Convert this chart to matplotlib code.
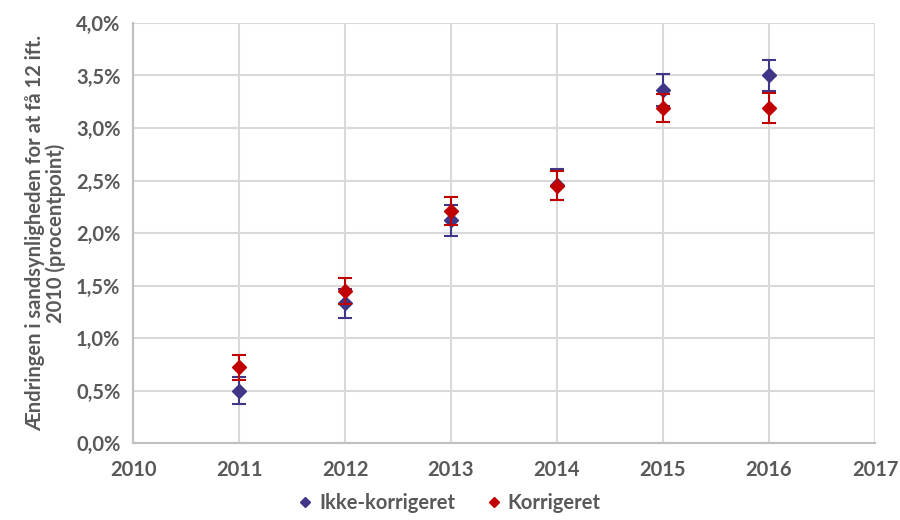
import matplotlib
matplotlib.use("Agg")
import matplotlib.pyplot as plt
from matplotlib.lines import Line2D
from matplotlib.ticker import FuncFormatter, MultipleLocator

years = [2011, 2012, 2013, 2014, 2015, 2016]

ukorr = [0.50, 1.33, 2.12, 2.46, 3.36, 3.50]
ukorr_err = [0.13, 0.14, 0.15, 0.15, 0.15, 0.15]

korr = [0.72, 1.45, 2.21, 2.45, 3.19, 3.19]
korr_err = [0.12, 0.125, 0.135, 0.14, 0.135, 0.14]

series_names = ["Ikke-korrigeret", "Korrigeret"]
ylabel = "Ændringen i sandsynligheden for at få 12 ift.\n2010 (procentpoint)"

TEXT = "#595959"
BLUE = "#3F3688"
RED = "#C00000"
FS = 14.5

plt.rcParams["font.family"] = ["Lato", "DejaVu Sans"]
plt.rcParams["font.weight"] = "bold"

fig = plt.figure(figsize=(9, 5.2), dpi=100)
ax = fig.add_axes([0.1478, 0.148, 0.8244, 0.8078])

ax.errorbar(years, ukorr, yerr=ukorr_err, fmt="D", color=BLUE, ms=7.5,
            elinewidth=1.5, capsize=5, capthick=1.5, zorder=3)
ax.errorbar(years, korr, yerr=korr_err, fmt="D", color=RED, ms=7.5,
            elinewidth=1.5, capsize=5, capthick=1.5, zorder=4)

ax.set_xlim(2010, 2017)
ax.set_ylim(0, 4.0)
ax.xaxis.set_major_locator(MultipleLocator(1))
ax.yaxis.set_major_locator(MultipleLocator(0.5))
ax.yaxis.set_major_formatter(FuncFormatter(lambda v, p: f"{v:.1f}%".replace(".", ",")))

ax.grid(True, color="#D9D9D9", linewidth=1.5, zorder=0)
ax.set_axisbelow(True)
for side in ["top", "right"]:
    ax.spines[side].set_visible(False)
for side in ["left", "bottom"]:
    ax.spines[side].set_color("#BFBFBF")
    ax.spines[side].set_linewidth(1.5)

ax.tick_params(axis="both", length=0, labelsize=FS, labelcolor=TEXT)
ax.tick_params(axis="y", pad=9)
ax.tick_params(axis="x", pad=12)
for lab in ax.get_xticklabels() + ax.get_yticklabels():
    lab.set_fontweight("bold")

ax.set_ylabel(ylabel, fontsize=FS, color=TEXT, fontweight="bold", labelpad=7,
              linespacing=1.05)

handles = [
    Line2D([], [], marker="D", linestyle="none", color=BLUE, markersize=5.5),
    Line2D([], [], marker="D", linestyle="none", color=RED, markersize=5.5),
]
leg = fig.legend(handles, series_names, loc="lower center", bbox_to_anchor=(0.5, -0.022),
                 ncol=2, frameon=False, fontsize=FS, handlelength=0.6,
                 handletextpad=0.4, columnspacing=1.6)
for t in leg.get_texts():
    t.set_color(TEXT)
    t.set_fontweight("bold")

fig.savefig("out.png", dpi=100)
